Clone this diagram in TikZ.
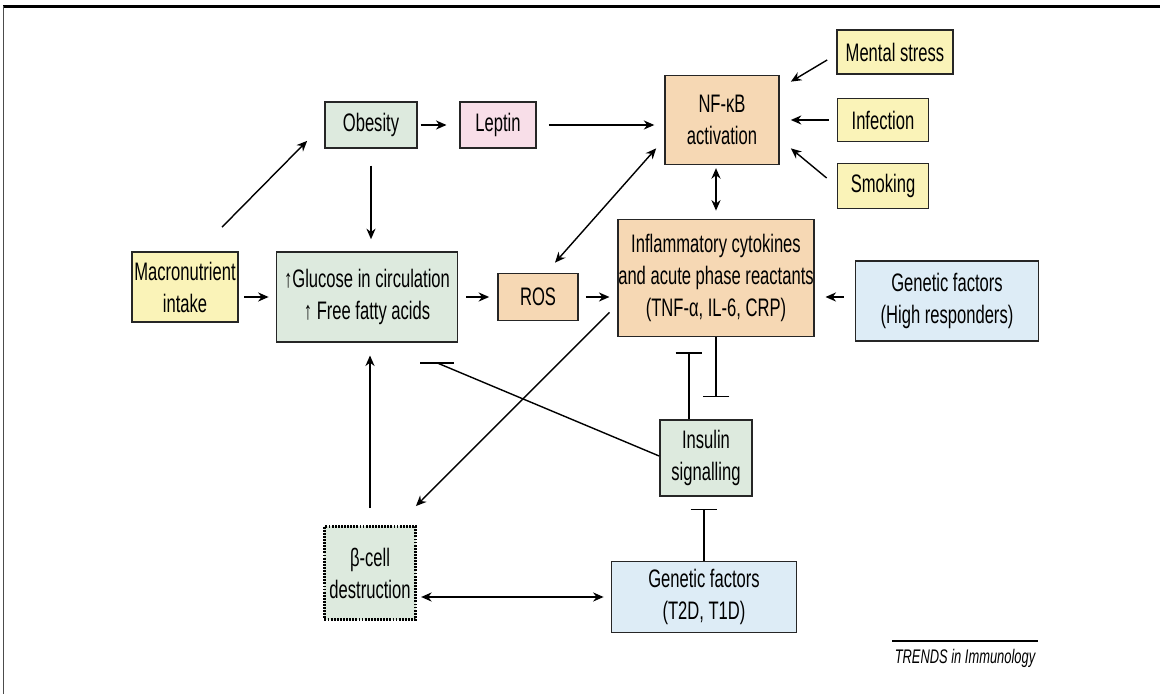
\documentclass[tikz,border=0pt]{standalone}
\usepackage{fontspec}
\setmainfont{Liberation Sans}[FakeStretch=0.655]
\usepackage{xcolor}
\usetikzlibrary{arrows.meta, positioning, calc}

\definecolor{boxyellow}{RGB}{250,243,184}
\definecolor{boxgreen}{RGB}{221,234,222}
\definecolor{boxpink}{RGB}{248,222,232}
\definecolor{boxorange}{RGB}{246,216,180}
\definecolor{boxblue}{RGB}{221,236,246}

\begin{document}
\begin{tikzpicture}[
    x=0.025cm, y=-0.025cm,
    factor/.style={rectangle, draw=black!85, line width=1.2pt, align=center, inner sep=0pt, font=\fontsize{18}{22.7}\selectfont},
    arrow/.style={line width=1pt, -{Stealth[length=7.5pt, width=6.5pt]}},
    twoway/.style={line width=1pt, {Stealth[length=7.5pt, width=6.5pt]}-{Stealth[length=7.5pt, width=6.5pt]}},
    inhibit/.style={line width=1pt, -{Bar[width=19pt, line width=1.2pt]}}
]
\useasboundingbox (0,0) rectangle (1160,694);

% Frame
\draw[line width=2.8pt] (3,6.5) -- (1160,6.5);
\draw[line width=1.4pt, black!70] (3.5,6) -- (3.5,694);

% Inputs
\node[factor, fill=boxyellow, minimum width=2.65cm, minimum height=1.75cm] (macro) at (185,287) {Macronutrient\\intake};
\node[factor, fill=boxgreen, minimum width=2.3cm, minimum height=1.15cm] (obesity) at (371,125) {Obesity};
\node[factor, fill=boxpink, minimum width=1.9cm, minimum height=1.15cm] (leptin) at (498,125) {Leptin};

% NF-kB and its triggers
\node[factor, fill=boxorange, minimum width=2.85cm, minimum height=2.225cm] (nfkb) at (722,120) {NF-κB\\activation};
\node[factor, fill=boxyellow, minimum width=2.9cm, minimum height=1.1cm] (mental) at (895,52) {Mental stress};
\node[factor, fill=boxyellow, minimum width=2.275cm, minimum height=1.075cm] (infection) at (883,120) {Infection};
\node[factor, fill=boxyellow, minimum width=2.275cm, minimum height=1.125cm] (smoking) at (883,186) {Smoking};

% Middle row
\node[factor, fill=boxgreen, minimum width=4.525cm, minimum height=2.25cm] (glucose) at (367,297) {↑Glucose in circulation\\↑ Free fatty acids};
\node[factor, fill=boxorange, minimum width=2cm, minimum height=1.175cm] (ros) at (538,297) {ROS};
\node[factor, fill=boxorange, minimum width=4.8cm, minimum height=2.925cm] (inflam) at (716,278) {Inflammatory cytokines\\and acute phase reactants\\(TNF-α, IL-6, CRP)};
\node[factor, fill=boxblue, minimum width=4.575cm, minimum height=2cm] (genhigh) at (947,301) {Genetic factors\\(High responders)};

% Lower row
\node[factor, fill=boxgreen, minimum width=2.3cm, minimum height=1.9cm] (insulin) at (706,458) {Insulin\\signalling};
\node[factor, fill=boxgreen, draw=black, dash pattern={on 1.3pt off 0.9pt}, line width=2pt, minimum width=2.275cm, minimum height=2.325cm] (beta) at (370,573) {β-cell\\destruction};
\node[factor, fill=boxblue, minimum width=4.625cm, minimum height=1.775cm] (gent) at (704,597) {Genetic factors\\(T2D, T1D)};

% Journal mark
\node[inner sep=0pt, minimum width=3.625cm, minimum height=0.85cm, font=\fontsize{14}{16}\selectfont\itshape] (trends) at (965,658) {TRENDS in Immunology};
\draw[line width=1.2pt] (trends.north west) -- (trends.north east);

% Arrows
\draw[arrow] ($(macro.north)+(37,-24)$) -- ($(obesity.south west)+(-17,-8)$);
\draw[arrow, shorten <=2pt, shorten >=9pt] (obesity.east) -- (leptin.west);
\draw[arrow, shorten <=8.5pt, shorten >=7pt] (leptin.east) -- (leptin.east -| nfkb.west);
\draw[arrow, shorten <=12pt, shorten >=8.5pt] (obesity.south) -- (obesity.south |- glucose.north);
\draw[arrow, shorten <=4pt, shorten >=5pt] (macro.east |- glucose.west) -- (glucose.west);
\draw[arrow, shorten <=5.7pt, shorten >=5.7pt] (glucose.east) -- (ros.west);
\draw[arrow, shorten <=5pt, shorten >=5.7pt] (ros.east) -- (ros.east -| inflam.west);
\draw[twoway] ($(ros.north)+(17,-10)$) -- ($(nfkb.south west)+(-8,-17)$);
\draw[twoway, shorten <=2pt, shorten >=5.7pt] (inflam.north |- nfkb.south) -- (inflam.north);
\draw[arrow] ($(mental.west)+(-9,8)$) -- ($(nfkb.north east)+(11,7)$);
\draw[arrow, shorten <=5.7pt, shorten >=7.8pt] (infection.west) -- (infection.west -| nfkb.east);
\draw[arrow] ($(smoking.west)+(-10,-8)$) -- ($(nfkb.south east)+(11,-17)$);
\draw[arrow, shorten <=7.8pt, shorten >=7.8pt] ($(genhigh.west)+(0,-4)$) -- ($(genhigh.west -| inflam.east)+(0,-4)$);
\draw[arrow] ($(inflam.south west)+(-8,-25)$) -- ($(beta.north east)+(-1,-19)$);
\draw[arrow, shorten <=12pt, shorten >=9pt] (beta.north) -- (beta.north |- glucose.south);
\draw[twoway, shorten <=3pt, shorten >=5pt] (beta.east |- gent.west) -- (gent.west);

% Inhibition
\draw[inhibit, shorten >=8.5pt] (gent.north) -- (gent.north |- insulin.south);
\draw[inhibit, shorten >=15.6pt] (inflam.south) -- (inflam.south |- insulin.north);
\draw[inhibit, shorten >=10.6pt] ($(insulin.north)+(-17,0)$) -- ($(insulin.north |- inflam.south)+(-17,0)$);
\draw[line width=1pt] ($(insulin.west)+(0,-2)$) -- ($(glucose.south)+(70,20)$) coordinate (gbar);
\draw[line width=1.2pt] ($(gbar)+(-17,0)$) -- ($(gbar)+(17,0)$);

\end{tikzpicture}
\end{document}
